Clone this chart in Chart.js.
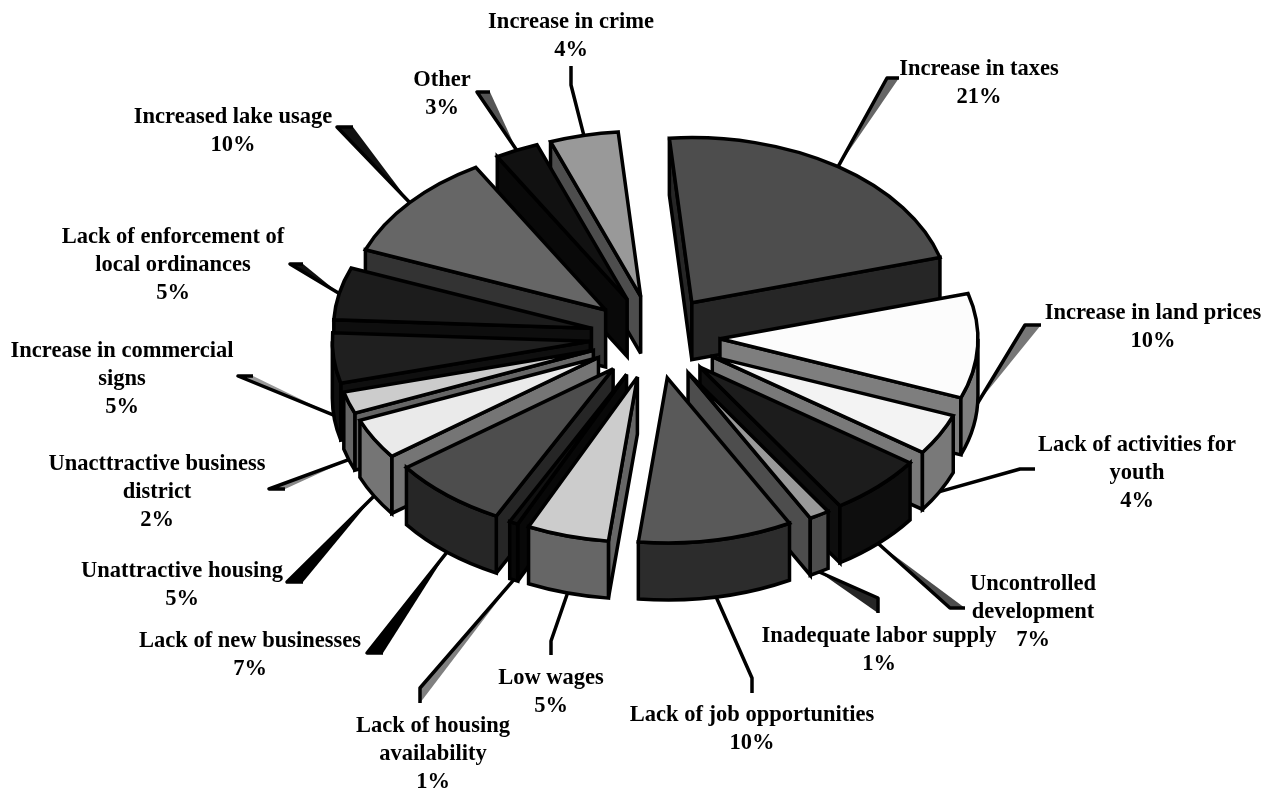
<!DOCTYPE html>
<html>
<head>
<meta charset="utf-8">
<script src="https://cdn.jsdelivr.net/npm/chart.js@4"></script>
<style>
  html, body { margin: 0; padding: 0; background: #fff; }
  canvas { display: block; }
</style>
</head>
<body>
<canvas id="pie" width="1272" height="791"></canvas>
<script>
// ---------------- Data ----------------
const categories = [
  ['Increase in taxes'], ['Increase in land prices'], ['Lack of activities for', 'youth'],
  ['Uncontrolled', 'development'], ['Inadequate labor supply'], ['Lack of job opportunities'],
  ['Low wages'], ['Lack of housing', 'availability'], ['Lack of new businesses'],
  ['Unattractive housing'], ['Unacttractive business', 'district'], ['Increase in commercial', 'signs'],
  ['Lack of enforcement of', 'local ordinances'], ['Increased lake usage'], ['Other'], ['Increase in crime']
];
// printed percentages, and the slice sizes
const percents = [21, 10, 4, 7, 1, 10, 5, 1, 7, 5, 2, 5, 5, 10, 3, 4];
const sliceValues = [22, 10.26, 4.04, 6.03, 1.28, 9.66, 5.15, 0.55, 7.32, 4, 2.14, 4.9, 5.14, 10.68, 2.72, 4.3];

// ---------------- Styles ----------------
const topColors = ['#4d4d4d', '#fcfcfc', '#f3f3f3', '#1c1c1c', '#999999', '#595959', '#cccccc', '#111111',
                   '#4d4d4d', '#eaeaea', '#cccccc', '#1f1f1f', '#1c1c1c', '#666666', '#111111', '#999999'];
const sideColors = ['#262626', '#7e7e7e', '#797979', '#0e0e0e', '#4d4d4d', '#2c2c2c', '#666666', '#080808',
                    '#262626', '#757575', '#666666', '#0f0f0f', '#0e0e0e', '#333333', '#090909', '#4d4d4d'];
const wedgeColors = ['#666666', '#777777', null, '#4d4d4d', '#262626', null, null, '#808080',
                     '#000000', '#000000', '#888888', '#999999', '#111111', '#111111', '#555555', null];

// label centre x, first line y, then the two outer points of each leader
const labelX = [979, 1153, 1137, 1033, 879, 752, 551, 433, 250, 182, 157, 122, 173, 233, 442, 571];
const labelY = [69, 313, 445, 584, 636, 715, 678, 726, 641, 571, 464, 351, 237, 117, 80, 22];
const leaderA = [[887,78],[1025,325],[1020,469],[950,608],[878,598],[752,678],[551,641],[420,688],[367,653],[287,582],[269,489],[238,376],[290,264],[337,127],[477,92],[571,85]];
const leaderB = [[899,78],[1041,325],[1035,469],[965,608],[878,613],[752,693],[551,655],[420,703],[383,653],[303,582],[285,489],[253,376],[303,264],[353,127],[490,92],[571,66]];

const TILT = 0.64, DEPTH = 57, EXPLODE = 65, LINE_H = 28;

// ---------------- 3D slices plugin ----------------
function sliceGeom(arc) {
  const mid = (arc.startAngle + arc.endAngle) / 2;
  const rx = arc.outerRadius, ry = rx * TILT;
  return {
    a0: arc.startAngle, a1: arc.endAngle, mid, rx, ry,
    cx: arc.x + Math.cos(mid) * EXPLODE,
    cy: arc.y + Math.sin(mid) * EXPLODE * TILT
  };
}

function wallEdge(ctx, g, a) {
  const x = g.cx + Math.cos(a) * g.rx, y = g.cy + Math.sin(a) * g.ry;
  ctx.beginPath();
  ctx.moveTo(g.cx, g.cy);
  ctx.lineTo(x, y);
  ctx.lineTo(x, y + DEPTH);
  ctx.lineTo(g.cx, g.cy + DEPTH);
  ctx.closePath();
  ctx.fill();
  ctx.stroke();
}

function drawSlice(ctx, g, i) {
  ctx.lineWidth = 3.5;
  ctx.lineJoin = 'miter';
  ctx.miterLimit = 3;
  ctx.strokeStyle = '#000';
  ctx.fillStyle = sideColors[i];
  if (Math.cos(g.a0) < 0) wallEdge(ctx, g, g.a0);
  if (Math.cos(g.a1) > 0) wallEdge(ctx, g, g.a1);
  const lo = Math.max(g.a0, 0), hi = Math.min(g.a1, Math.PI);
  if (hi > lo) {
    ctx.beginPath();
    ctx.ellipse(g.cx, g.cy, g.rx, g.ry, 0, lo, hi);
    ctx.ellipse(g.cx, g.cy + DEPTH, g.rx, g.ry, 0, hi, lo, true);
    ctx.closePath();
    ctx.fill();
    ctx.stroke();
  }
  ctx.fillStyle = topColors[i];
  ctx.beginPath();
  ctx.moveTo(g.cx, g.cy);
  ctx.ellipse(g.cx, g.cy, g.rx, g.ry, 0, g.a0, g.a1);
  ctx.closePath();
  ctx.fill();
  ctx.stroke();
}

function drawLeader(ctx, g, i) {
  const front = Math.sin(g.mid) > 0;
  const x = g.cx + Math.cos(g.mid) * g.rx;
  const y = g.cy + Math.sin(g.mid) * g.ry + (front ? DEPTH : 0);
  const [ax, ay] = leaderA[i], [bx, by] = leaderB[i];
  if (wedgeColors[i]) {
    ctx.fillStyle = wedgeColors[i];
    ctx.beginPath();
    ctx.moveTo(x, y);
    ctx.lineTo(ax, ay);
    ctx.lineTo(bx, by);
    ctx.closePath();
    ctx.fill();
  }
  ctx.strokeStyle = '#000';
  ctx.lineWidth = 3.5;
  ctx.lineJoin = 'round';
  ctx.beginPath();
  ctx.moveTo(x, y);
  ctx.lineTo(ax, ay);
  ctx.lineTo(bx, by);
  ctx.stroke();
}

const pie3d = {
  id: 'pie3d',
  beforeDatasetDraw(chart, args) {
    const ctx = chart.ctx;
    const geoms = args.meta.data.map(sliceGeom);
    ctx.save();
    geoms.forEach((g, i) => drawLeader(ctx, g, i));
    geoms.map((g, i) => i)
      .sort((p, q) => Math.sin(geoms[p].mid) - Math.sin(geoms[q].mid))
      .forEach(i => drawSlice(ctx, geoms[i], i));
    ctx.restore();
    return false;
  },
  afterDatasetsDraw(chart) {
    const ctx = chart.ctx;
    ctx.save();
    ctx.font = 'bold 22.5px "Liberation Serif"';
    ctx.fillStyle = '#000';
    ctx.textAlign = 'center';
    ctx.textBaseline = 'middle';
    categories.forEach((lines, i) => {
      lines.concat(percents[i] + '%').forEach((t, n) => {
        ctx.fillText(t, labelX[i], labelY[i] + n * LINE_H);
      });
    });
    ctx.restore();
  }
};

// ---------------- Chart ----------------
new Chart(document.getElementById('pie'), {
  type: 'pie',
  data: {
    labels: categories.map(c => c.join(' ')),
    datasets: [{ data: sliceValues, backgroundColor: topColors }]
  },
  options: {
    responsive: false,
    animation: false,
    rotation: -5,
    radius: 258,
    layout: { padding: { left: 38, bottom: 117 } },
    plugins: { legend: { display: false }, tooltip: { enabled: false } }
  },
  plugins: [pie3d]
});
</script>
</body>
</html>
